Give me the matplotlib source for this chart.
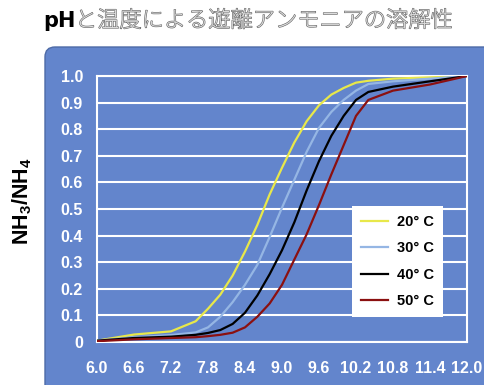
import matplotlib
matplotlib.use("Agg")
import matplotlib.pyplot as plt
from matplotlib.patches import FancyBboxPatch
import matplotlib.patheffects as pe

# pH values and NH3/NH4 ratio
ph = [6.0, 6.6, 7.2, 7.6, 7.8, 8.0, 8.2, 8.4, 8.6, 8.8, 9.0,
      9.2, 9.4, 9.6, 9.8, 10.0, 10.2, 10.4, 10.8, 11.4, 12.0]
t20 = [0.005, 0.028, 0.040, 0.078, 0.125, 0.178, 0.250, 0.340, 0.440, 0.555, 0.655,
       0.750, 0.830, 0.890, 0.930, 0.955, 0.975, 0.982, 0.990, 0.995, 1.0]
t30 = [0.005, 0.018, 0.026, 0.036, 0.055, 0.095, 0.150, 0.215, 0.290, 0.395, 0.505,
       0.610, 0.715, 0.805, 0.865, 0.910, 0.945, 0.970, 0.980, 0.990, 1.0]
t40 = [0.005, 0.015, 0.020, 0.027, 0.034, 0.045, 0.068, 0.110, 0.175, 0.255, 0.345,
       0.450, 0.570, 0.680, 0.775, 0.850, 0.910, 0.940, 0.960, 0.980, 1.0]
t50 = [0.003, 0.010, 0.015, 0.018, 0.022, 0.027, 0.035, 0.055, 0.095, 0.145, 0.215,
       0.310, 0.405, 0.515, 0.630, 0.740, 0.850, 0.910, 0.945, 0.968, 1.0]

series_labels = ["20° C", "30° C", "40° C", "50° C"]
colors = ["#E8E84A", "#95B6E4", "#000000", "#8B1010"]
xticks = [6.0, 6.6, 7.2, 7.8, 8.4, 9.0, 9.6, 10.2, 10.8, 11.4, 12.0]
yticks = [0, 0.1, 0.2, 0.3, 0.4, 0.5, 0.6, 0.7, 0.8, 0.9, 1.0]

plt.rcParams["mathtext.default"] = "regular"

fig = plt.figure(figsize=(4.85, 3.85), dpi=100)
fig.patch.set_facecolor("white")

# blue rounded panel behind the plot
panel = FancyBboxPatch((0.45, -0.15), 4.6, 3.53,
                       boxstyle="round,pad=0,rounding_size=0.1",
                       transform=fig.dpi_scale_trans,
                       facecolor="#6385CC", edgecolor="#4d6aa6",
                       linewidth=1, zorder=-1)
fig.add_artist(panel)

ax = fig.add_axes([97 / 485, 43 / 385, 370 / 485, 266 / 385])
ax.set_facecolor("none")

for vals, c, lab in zip([t20, t30, t40, t50], colors, series_labels):
    ax.plot(ph, vals, color=c, linewidth=1.6, label=lab, zorder=3)

ax.tick_params(length=0, labelcolor="white")
ax.tick_params(axis="x", pad=14)
ax.tick_params(axis="y", pad=10)

tick_font = {"family": "Liberation Sans", "weight": "bold", "size": 11.5, "color": "white"}
ax.set_xlim(6.0, 12.0)
ax.set_ylim(0, 1.0)
ax.set_xticks(xticks)
ax.set_xticklabels([f"{v:.1f}" for v in xticks], fontdict=tick_font)
ax.set_yticks(yticks)
ax.set_yticklabels(["0" if v == 0 else f"{v:.1f}" for v in yticks], fontdict=tick_font)
ax.yaxis.grid(True, color="white", linewidth=1.5)
ax.set_axisbelow(True)
for s in ax.spines.values():
    s.set_color("white")
    s.set_linewidth(1.5)

leg = ax.legend(loc="upper left", bbox_to_anchor=(0.689, 0.511), borderaxespad=0,
                fancybox=False, framealpha=1, edgecolor="white",
                borderpad=0.6, labelspacing=0.85, handlelength=1.9,
                handletextpad=0.6,
                prop={"family": "Liberation Sans", "weight": "bold", "size": 10.5})
leg.get_frame().set_linewidth(0)

fig.text(22 / 485, 1 - 201 / 385, r"NH$_3$/NH$_4$", rotation=90,
         ha="center", va="center", fontsize=15.5, fontweight="bold",
         family="Liberation Sans", color="black")

# title: bold "pH" then grey outlined Japanese text
fig.text(43 / 485, 1 - 27 / 385, "pH", fontsize=15, fontweight="bold",
         family="DejaVu Sans", color="black", ha="left", va="baseline")
jt = fig.text(75 / 485, 1 - 27 / 385, "と温度による遊離アンモニアの溶解性",
              fontsize=16, fontweight="light",
              family=["Noto Sans CJK JP", "DejaVu Sans"],
              color="#dcdcdc", ha="left", va="baseline")
jt.set_path_effects([pe.withStroke(linewidth=0.8, foreground="#606060")])

fig.savefig("out.png", dpi=100)
